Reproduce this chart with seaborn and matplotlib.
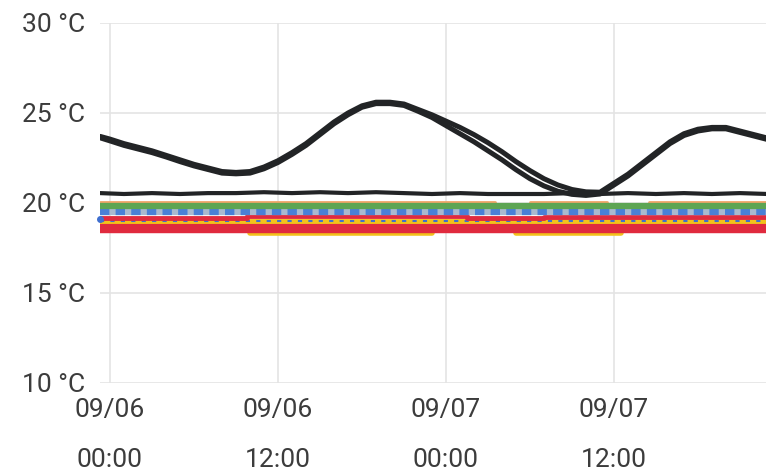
import matplotlib
matplotlib.use("Agg")
import matplotlib.pyplot as plt
import seaborn as sns
import numpy as np

# ---- data (hours since 09/06 00:00) ----
hours_curve = [-0.7, 0, 1, 2, 3, 4, 5, 6, 7, 8, 9, 10, 11, 12, 13, 14, 15, 16, 17, 18, 19, 20,
               21, 22, 23, 24, 25, 26, 27, 28, 29, 30, 31, 32, 33, 34, 35, 36, 37, 38, 39, 40,
               41, 42, 43, 44, 45, 46, 47]
temp_a = [23.7, 23.55, 23.3, 23.1, 22.9, 22.65, 22.4, 22.15, 21.95, 21.75, 21.7, 21.75, 22.0,
          22.35, 22.8, 23.3, 23.9, 24.5, 25.0, 25.4, 25.6, 25.6, 25.5, 25.2, 24.9, 24.55, 24.2,
          23.8, 23.35, 22.85, 22.3, 21.8, 21.35, 21.0, 20.75, 20.62, 20.6, 21.1, 21.6, 22.2, 22.8,
          23.4, 23.85, 24.1, 24.2, 24.2, 24.0, 23.8, 23.6]
temp_b = [23.62, 23.45, 23.2, 23.0, 22.8, 22.56, 22.3, 22.06, 21.86, 21.66, 21.62, 21.66, 21.9,
          22.25, 22.7, 23.2, 23.8, 24.4, 24.9, 25.32, 25.52, 25.52, 25.42, 25.1, 24.75, 24.3, 23.85,
          23.4, 22.9, 22.4, 21.85, 21.35, 20.95, 20.65, 20.48, 20.42, 20.5, 21.0, 21.5, 22.1,
          22.7, 23.3, 23.75, 24.0, 24.12, 24.12, 23.92, 23.72, 23.52]

hours_flat = [-0.7, 1, 3, 5, 7, 9, 11, 13, 15, 17, 19, 21, 23, 25, 27, 29, 31, 33, 35, 37, 39,
              41, 43, 45, 47]
temp_flat = [20.55, 20.5, 20.55, 20.5, 20.55, 20.55, 20.6, 20.55, 20.6, 20.55, 20.6, 20.55, 20.5,
             20.55, 20.5, 20.5, 20.5, 20.55, 20.5, 20.55, 20.5, 20.55, 20.5, 20.55, 20.5]

# step series: change times and values
orange_t = [-0.7, 27.5, 30.0, 35.5, 38.5, 47]
orange_v = [20.05, 19.9, 20.05, 19.9, 20.05, 20.05]
green_t = [-0.7, 47]
green_v = [19.85, 19.85]
blue_t = [-0.7, 47]
blue_v = [19.5, 19.5]
red_hi_t = [-0.7, 9.8, 25.5, 31.0, 47]
red_hi_v = [19.15, 19.3, 19.15, 19.2, 19.2]
yellow_t = [-0.7, 47]
yellow_v = [19.0, 19.0]
blue2_t = [-0.7, 47]
blue2_v = [19.0, 19.0]
red_lo_t = [-0.7, 47]
red_lo_v = [18.6, 18.6]
yellow_lo_t = [-0.7, 10.0, 23.0, 29.0, 36.5, 47]
yellow_lo_v = [18.6, 18.35, 18.6, 18.35, 18.6, 18.6]

tick_hours = [0, 12, 24, 36]
tick_labels = ["09/06\n00:00", "09/06\n12:00", "09/07\n00:00", "09/07\n12:00"]
y_ticks = [10, 15, 20, 25, 30]
y_labels = ["10 °C", "15 °C", "20 °C", "25 °C", "30 °C"]

# ---- figure ----
sns.set_theme(style="white")
plt.rcParams['font.family'] = ['Roboto', 'DejaVu Sans']

fig = plt.figure(figsize=(7.66, 4.72), dpi=100)
ax = fig.add_axes([100 / 766, 89 / 472, 666 / 766, 360 / 472])

def step(t, v, color, lw, **kw):
    sns.lineplot(x=t, y=v, ax=ax, color=color, linewidth=lw, drawstyle="steps-post",
                 estimator=None, sort=False, **kw)

step(yellow_lo_t, yellow_lo_v, "#f2c21b", 4)
step(red_lo_t, red_lo_v, "#e02a3e", 7.5)
step(yellow_t, yellow_v, "#f2c21b", 3.5)
step(blue2_t, blue2_v, "#3f6fd0", 1.5, linestyle=(0, (2, 3)))
step(red_hi_t, red_hi_v, "#e02a3e", 3.5)
step(blue_t, blue_v, "#a9b9cf", 4.5)
step(blue_t, blue_v, "#4a80d6", 4.5, linestyle=(0, (1.5, 1)))
step(orange_t, orange_v, "#f0a468", 2)
step(green_t, green_v, "#5da553", 4.5)

sns.lineplot(x=hours_flat, y=temp_flat, ax=ax, color="#222426", linewidth=3,
             estimator=None, sort=False)
sns.lineplot(x=hours_curve, y=temp_b, ax=ax, color="#222426", linewidth=3.6,
             estimator=None, sort=False)
sns.lineplot(x=hours_curve, y=temp_a, ax=ax, color="#222426", linewidth=3.6,
             estimator=None, sort=False)
ax.plot([-0.7], [19.1], marker="o", color="#3f6fd0", markersize=4, clip_on=False)

ax.set_xlim(-0.714, 46.86)
ax.set_ylim(10, 30)
ax.set_xticks(tick_hours)
ax.set_xticklabels(tick_labels, linespacing=2.35)
ax.set_yticks(y_ticks)
ax.set_yticklabels(y_labels)
ax.tick_params(axis="both", length=0, labelsize=19, colors="#3c3c3c")
ax.tick_params(axis="x", pad=11)
ax.tick_params(axis="y", pad=11)
ax.grid(True, color="#e4e4e4", linewidth=1.2)
ax.set_axisbelow(True)
for s in ax.spines.values():
    s.set_visible(False)
ax.set_xlabel("")
ax.set_ylabel("")

fig.savefig("out.png", dpi=100)
